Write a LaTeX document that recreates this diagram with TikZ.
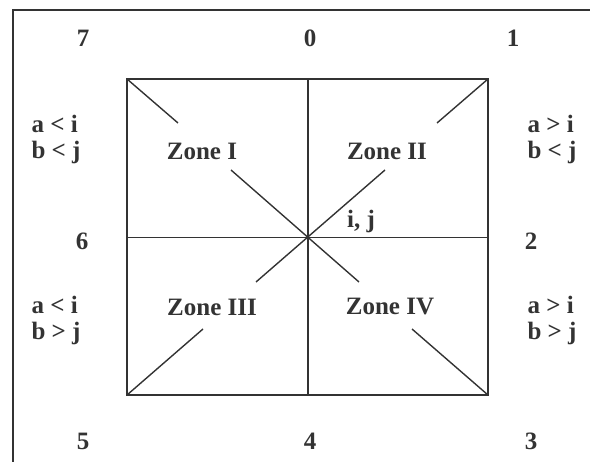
\documentclass[tikz,border=0pt]{standalone}
\usepackage{fontspec}
\setmainfont{Liberation Serif}
\definecolor{ink}{RGB}{51,51,51}
\begin{document}
\begin{tikzpicture}[x=1pt,y=-1pt,
  lbl/.style={text=ink,font=\fontsize{25}{28}\selectfont\bfseries,inner sep=0pt},
  cond/.style={text=ink,inner sep=0pt,align=left,font=\fontsize{25}{23}\selectfont\bfseries},
  edge/.style={draw=ink,line width=1.4pt},
  frame/.style={draw=ink,line width=2pt}]
\useasboundingbox (0,0) rectangle (590,462);
% outer frame (top and left only)
\coordinate (f1) at (590,10);
\coordinate (f2) at (13,10);
\coordinate (f3) at (13,462);
\draw[frame] (f1) -- (f2) -- (f3);
% square
\coordinate (tl) at (127,79);
\coordinate (tr) at (488,79);
\coordinate (br) at (488,395);
\coordinate (bl) at (127,395);
\coordinate (c) at (308,237.5);
\coordinate (mt) at (308,79);
\coordinate (mb) at (308,395);
\coordinate (ml) at (127,237.5);
\coordinate (mr) at (488,237.5);
\draw[edge] (tl) rectangle (br);
\draw[edge] (mt) -- (mb);
\draw[edge] (ml) -- (mr);
% diagonal pieces
\coordinate (d1) at (178,123);
\coordinate (d2) at (437,123);
\coordinate (d3) at (203,329);
\coordinate (d4) at (412,329);
\coordinate (e1) at (231,170);
\coordinate (e2) at (359,282);
\coordinate (e3) at (385,170);
\coordinate (e4) at (256,282);
\draw[edge] (tl) -- (d1);
\draw[edge] (tr) -- (d2);
\draw[edge] (bl) -- (d3);
\draw[edge] (br) -- (d4);
\draw[edge] (e1) -- (e2);
\draw[edge] (e3) -- (e4);
% zone labels
\node[lbl] (z1) at (202,151) {Zone I};
\node[lbl] (z2) at (387,151) {Zone II};
\node[lbl] (z3) at (212,307) {Zone III};
\node[lbl] (z4) at (390,307) {Zone IV};
\node[lbl] (ij) at (361,221) {i, j};
% direction numbers
\node[lbl] (n7) at (83,38) {7};
\node[lbl] (n0) at (310,38) {0};
\node[lbl] (n1) at (513,38) {1};
\node[lbl] (n6) at (82,241) {6};
\node[lbl] (n2) at (531,241) {2};
\node[lbl] (n5) at (83,441) {5};
\node[lbl] (n4) at (310,441) {4};
\node[lbl] (n3) at (531,441) {3};
% conditions
\node[cond] (cl1) at (56,139) {a {<} i\\[3pt]b {<} j};
\node[cond] (cr1) at (552,139) {a {>} i\\[3pt]b {<} j};
\node[cond] (cl2) at (56,320) {a {<} i\\[3pt]b {>} j};
\node[cond] (cr2) at (552,320) {a {>} i\\[3pt]b {>} j};
\end{tikzpicture}
\end{document}
